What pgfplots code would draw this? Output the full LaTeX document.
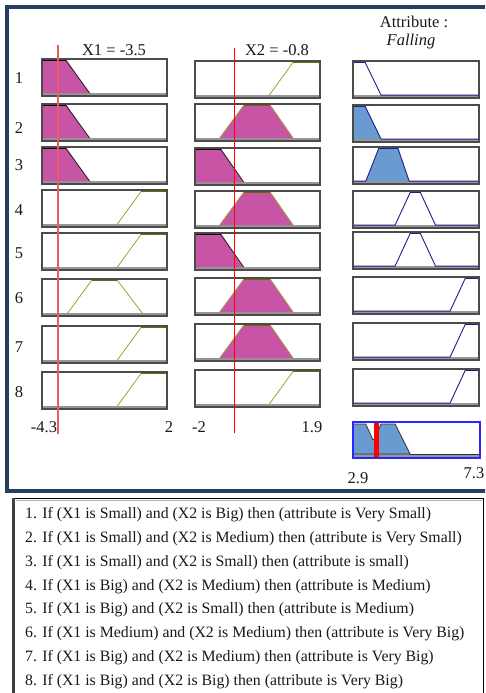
\documentclass[border=0pt]{standalone}
\usepackage{fontspec}
\setmainfont{Liberation Serif}
\usepackage{pgfplots}
\pgfplotsset{compat=1.18}
\definecolor{frame}{RGB}{36,63,96}
\definecolor{mag}{RGB}{200,84,166}
\definecolor{olivea}{RGB}{165,160,50}
\definecolor{oliveb}{RGB}{110,105,0}
\definecolor{bluef}{RGB}{106,155,208}
\definecolor{navy}{RGB}{30,30,140}
\definecolor{boxgray}{RGB}{75,75,75}
\definecolor{bargray}{RGB}{150,150,150}
\definecolor{lineredone}{RGB}{236,90,100}
\definecolor{aggblue}{RGB}{40,40,255}
\definecolor{txt}{RGB}{25,25,25}
\newcommand\fs{\fontsize{16.5}{19}\selectfont}
\newcommand\rs{\fontsize{15.8}{18}\selectfont}
\pgfplotsset{
  mfbox/.style={anchor=north west, scale only axis, height=37pt,
    ymin=-0.09, ymax=1.04, xtick=\empty, ytick=\empty, no markers,
    axis line style={draw=boxgray, line width=1.2pt}, axis on top, clip=true},
  magfill/.style={fill=mag, draw=none},
  bluefill/.style={fill=bluef, draw=none},
  edgeK/.style={draw=black!85, line width=0.8pt},
  topK/.style={draw=black, line width=2pt},
  edgeO/.style={draw=olivea, line width=0.8pt},
  topO/.style={draw=oliveb, line width=2pt},
  navyline/.style={draw=navy, line width=0.9pt},
  topN/.style={draw=navy, line width=2pt},
}
% ---- X1 membership functions (range -4.3 .. 2)
\newcommand\AsmallFill{%
 \addplot[magfill] coordinates {(-4.3,0)(-4.3,1.04)(-3.1,1.04)(-1.9,0)} -- cycle;
 \addplot[edgeK] coordinates {(-3.1,1)(-1.9,0)};
 \addplot[topK] coordinates {(-4.3,1)(-3.1,1)};}
\newcommand\AbigLine{%
 \addplot[edgeO] coordinates {(-0.5,0)(0.7,1)};
 \addplot[topO] coordinates {(0.7,1)(2,1)};}
\newcommand\AmedLine{%
 \addplot[edgeO] coordinates {(-3.0,0)(-1.8,1)};
 \addplot[topO] coordinates {(-1.8,1)(-0.5,1)};
 \addplot[edgeO] coordinates {(-0.5,1)(0.75,0)};}
% ---- X2 membership functions (range -2 .. 1.9)
\newcommand\BbigLine{%
 \addplot[edgeO] coordinates {(0.32,0)(1.06,1)};
 \addplot[topO] coordinates {(1.06,1)(1.9,1)};}
\newcommand\BmedFill{%
 \addplot[magfill] coordinates {(-1.23,0)(-0.48,1)(0.35,1)(1.06,0)} -- cycle;
 \addplot[edgeO] coordinates {(-1.23,0)(-0.48,1)};
 \addplot[topO] coordinates {(-0.48,1)(0.35,1)};
 \addplot[edgeO] coordinates {(0.35,1)(1.06,0)};}
\newcommand\BsmallFill{%
 \addplot[magfill] coordinates {(-2,0)(-2,1.04)(-1.2,1.04)(-0.48,0)} -- cycle;
 \addplot[edgeK] coordinates {(-1.2,1)(-0.48,0)};
 \addplot[topK] coordinates {(-2,1)(-1.2,1)};}
% ---- Output membership functions (range 2.9 .. 7.3)
\newcommand\CvsLine{%
 \addplot[navyline] coordinates {(2.9,1)(3.32,1)(3.88,0)(7.3,0)};
 \addplot[topN] coordinates {(2.9,1)(3.32,1)};}
\newcommand\CvsFill{%
 \addplot[bluefill] coordinates {(2.9,0)(2.9,1.04)(3.32,1.04)(3.88,0)} -- cycle;
 \addplot[navyline] coordinates {(2.9,1)(3.32,1)(3.88,0)(7.3,0)};
 \addplot[topN] coordinates {(2.9,1)(3.32,1)};}
\newcommand\CsmallFill{%
 \addplot[bluefill] coordinates {(3.35,0)(3.8,1)(4.47,1)(4.86,0)} -- cycle;
 \addplot[navyline] coordinates {(2.9,0)(3.35,0)(3.8,1)(4.47,1)(4.86,0)(7.3,0)};
 \addplot[topN] coordinates {(3.8,1)(4.47,1)};}
\newcommand\CmedLine{%
 \addplot[navyline] coordinates {(2.9,0)(4.37,0)(4.9,1)(5.25,1)(5.78,0)(7.3,0)};
 \addplot[topN] coordinates {(4.9,1)(5.25,1)};}
\newcommand\CvbLine{%
 \addplot[navyline] coordinates {(2.9,0)(6.29,0)(6.82,1)(7.3,1)};
 \addplot[topN] coordinates {(6.82,1)(7.3,1)};}
% ---- boxes
\newcommand\colA[2]{\begin{axis}[mfbox, at={(42pt,-#1pt)}, width=125pt, xmin=-4.3, xmax=2]
 \addplot[fill=bargray, draw=none] coordinates {(-4.3,-0.09)(2,-0.09)(2,0)(-4.3,0)} -- cycle;
 #2
 \end{axis}}
\newcommand\colB[2]{\begin{axis}[mfbox, at={(195pt,-#1pt)}, width=125pt, xmin=-2, xmax=1.9]
 \addplot[fill=bargray, draw=none] coordinates {(-2,-0.09)(1.9,-0.09)(1.9,0)(-2,0)} -- cycle;
 #2
 \end{axis}}
\newcommand\colC[2]{\begin{axis}[mfbox, at={(353pt,-#1pt)}, width=126pt, xmin=2.9, xmax=7.3]
 \addplot[fill=bargray, draw=none] coordinates {(2.9,-0.09)(7.3,-0.09)(7.3,0)(2.9,0)} -- cycle;
 #2
 \end{axis}}
\begin{document}
\begin{tikzpicture}[x=1pt,y=1pt]
\path[use as bounding box] (0,0) rectangle (485,-693);
\clip (0,0) rectangle (485,-693);
\fill[white] (0,0) rectangle (485,-693);
% outer frame
\draw[frame, line width=4.5pt] (7,-7.2) -- (7,-491) -- (495,-491);
\draw[frame, line width=4.5pt] (4.8,-7.2) -- (495,-7.2);
% rules box
\draw[black, line width=1pt] (13,-498.5) rectangle (483,-700);
\draw[black!75, line width=2.5pt] (13.5,-498) -- (13.5,-700);
\draw[black!30, line width=1pt] (15.5,-500) -- (482,-500);
% rows
\colA{59}{\AsmallFill}
\colA{104}{\AsmallFill}
\colA{147}{\AsmallFill}
\colA{190}{\AbigLine}
\colA{233}{\AbigLine}
\colA{279}{\AmedLine}
\colA{326}{\AbigLine}
\colA{372}{\AbigLine}
\colB{61}{\BbigLine}
\colB{104}{\BmedFill}
\colB{148}{\BsmallFill}
\colB{191}{\BmedFill}
\colB{233}{\BsmallFill}
\colB{278}{\BmedFill}
\colB{324}{\BmedFill}
\colB{370}{\BbigLine}
\colC{61}{\CvsLine}
\colC{105}{\CvsFill}
\colC{147}{\CsmallFill}
\colC{191}{\CmedLine}
\colC{232}{\CmedLine}
\colC{277}{\CvbLine}
\colC{323}{\CvbLine}
\colC{369}{\CvbLine}
% aggregated output
\begin{axis}[anchor=north west, at={(353pt,-422pt)}, scale only axis, width=127pt, height=36pt,
  xmin=2.9, xmax=7.3, ymin=-0.133, ymax=1.067, xtick=\empty, ytick=\empty, no markers,
  axis line style={draw=aggblue, line width=1.2pt}, axis on top, clip=true]
 \addplot[fill=bargray, draw=none] coordinates {(2.9,-0.133)(7.3,-0.133)(7.3,0)(2.9,0)} -- cycle;
 \addplot[fill=bluef, draw=black!80, line width=0.8pt] coordinates {(2.9,0)(2.9,1)(3.34,1)(3.59,0.48)(3.66,0.5)(3.87,1)(4.36,1)(4.88,0)} -- cycle;
 \addplot[draw=black!80, line width=0.8pt] coordinates {(4.88,0)(7.3,0)};
 \addplot[draw=red, line width=5pt] coordinates {(3.73,-0.133)(3.73,1.067)};
\end{axis}
% input value lines
\begin{axis}[anchor=north west, at={(42pt,-45pt)}, scale only axis, width=125pt, height=389pt,
  xmin=-4.3, xmax=2, ymin=0, ymax=1, hide axis, clip=false]
 \addplot[color=lineredone, line width=1.3pt, no markers] coordinates {(-3.5,0)(-3.5,1)};
\end{axis}
\begin{axis}[anchor=north west, at={(195pt,-48pt)}, scale only axis, width=125pt, height=385pt,
  xmin=-2, xmax=1.9, ymin=0, ymax=1, hide axis, clip=false]
 \addplot[draw=red, line width=1.2pt, no markers] coordinates {(-0.78,0)(-0.78,1)};
\end{axis}
% titles and labels
\begin{scope}[every node/.style={text=txt, font=\fs, inner sep=0pt}]
\node at (114,-50) {X1 = -3.5};
\node at (277,-50) {X2 = -0.8};
\node at (414,-22) {Attribute :};
\node at (411,-42) {\itshape Falling};
\node at (19,-78) {1};
\node at (19,-128) {2};
\node at (19,-165) {3};
\node at (19,-210) {4};
\node at (19,-253) {5};
\node at (19,-298) {6};
\node at (19,-347) {7};
\node at (19,-392) {8};
\node at (44,-427) {-4.3};
\node at (169,-427) {2};
\node at (199,-427) {-2};
\node at (312,-427) {1.9};
\node at (358,-478) {2.9};
\node at (474,-473) {7.3};
\end{scope}
\begin{scope}[every node/.style={text=txt, font=\rs, inner sep=0pt, anchor=west}]
\node at (25,-515) {1. If (X1 is Small) and (X2 is Big) then (attribute is Very Small)};
\node at (25,-538.5) {2. If (X1 is Small) and (X2 is Medium) then (attribute is Very Small)};
\node at (25,-562.5) {3. If (X1 is Small) and (X2 is Small) then (attribute is small)};
\node at (25,-586.5) {4. If (X1 is Big) and (X2 is Medium) then (attribute is Medium)};
\node at (25,-609.5) {5. If (X1 is Big) and (X2 is Small) then (attribute is Medium)};
\node at (25,-633.5) {6. If (X1 is Medium) and (X2 is Medium) then (attribute is Very Big)};
\node at (25,-657.5) {7. If (X1 is Big) and (X2 is Medium) then (attribute is Very Big)};
\node at (25,-681.5) {8. If (X1 is Big) and (X2 is Big) then (attribute is Very Big)};
\end{scope}
\end{tikzpicture}
\end{document}
